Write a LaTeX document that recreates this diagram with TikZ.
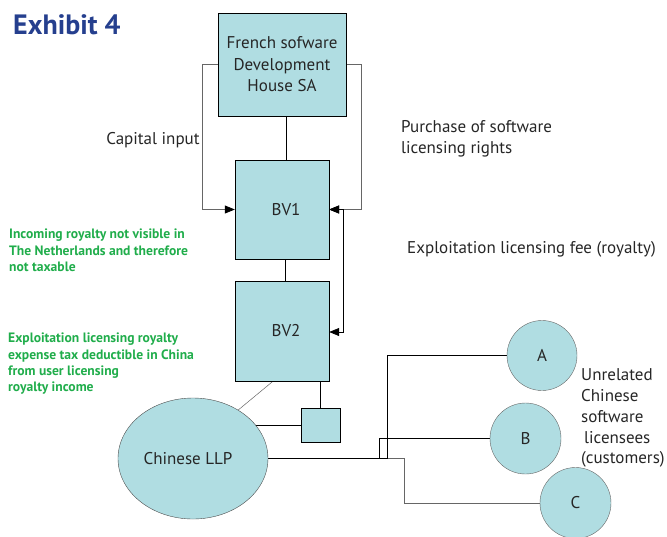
\documentclass[tikz,border=0pt]{standalone}
\usepackage{fontspec}
\setmainfont{PT Sans}
\usetikzlibrary{arrows.meta,shapes.geometric,backgrounds}
\definecolor{boxfill}{RGB}{176,221,226}
\definecolor{titleblue}{RGB}{37,63,142}
\definecolor{notegreen}{RGB}{32,173,75}
\begin{document}
\begin{tikzpicture}[x=1pt,y=-1pt,
  every node/.style={font=\fontsize{17}{21.5}\selectfont, text=black!85},
  boxnode/.style={draw=black, fill=boxfill, rectangle, inner sep=0pt, align=center},
  circnode/.style={draw=black!60, fill=boxfill, circle, inner sep=0pt},
  ellnode/.style={draw=black!70, fill=boxfill, ellipse, inner sep=0pt},
  conn/.style={draw=black, line width=0.7pt},
  grayconn/.style={draw=black!60, line width=0.8pt},
  thinconn/.style={draw=black!60, line width=0.5pt},
  arr/.style={-{Triangle[length=10pt,width=8pt,color=black]}},
  darr/.style={{Triangle[length=10pt,width=8pt]}-{Triangle[length=10pt,width=8pt]}},
  note/.style={font=\fontsize{13.6}{16.3}\selectfont\bfseries, text=notegreen, align=left, anchor=north west, inner sep=0pt},
  lbl/.style={align=left, inner sep=0pt}
]
\useasboundingbox (0,0) rectangle (667,536);

\node[font=\fontsize{28}{30}\selectfont\bfseries, text=titleblue, anchor=west, inner sep=0pt] (title) at (13,25) {Exhibit 4};

\node[boxnode, minimum width=128pt, minimum height=103pt] (french) at (282,64.5) {\raisebox{-2pt}{\parbox{120pt}{\centering French sofware\\Development\\House SA}}};
\node[boxnode, minimum width=94pt, minimum height=99pt] (bv1) at (282,209.5) {\hspace{8pt}BV1};
\node[boxnode, minimum width=94pt, minimum height=100pt] (bv2) at (282,331) {\hspace{8pt}BV2};
\node[boxnode, minimum width=39pt, minimum height=34pt] (small) at (320.5,425) {};
\node[ellnode, minimum width=150pt, minimum height=121pt] (llp) at (193,458.5) {\hspace{-10pt}Chinese LLP};
\node[circnode, minimum size=70pt] (A) at (542,355.5) {A};
\node[circnode, minimum size=71pt] (B) at (525.5,438.5) {B};
\node[circnode, minimum size=71pt] (C) at (575.5,503) {C};

\coordinate (j1) at (379,458.5);
\coordinate (j2) at (387,458.5);
\coordinate (j3) at (404,458.5);

\begin{scope}[on background layer]
  \draw[conn] ([xshift=4pt]french.south) -- ([xshift=4pt]bv1.north);
  \draw[conn] ([xshift=3pt]bv1.south) -- ([xshift=3pt]bv2.north);
  \draw[grayconn, arr] (french.west) -- ++(-15,0) |- (bv1.west);
  \draw[grayconn, arr] (french.east) -- ++(15,0) |- (bv1.east);
  \draw[conn, darr] (bv1.east) -- ++(14,0) |- ([yshift=-1pt]bv2.east);
  \draw[thinconn] ([xshift=-9pt]bv2.south) -- (llp.47);
  \draw[conn] (small.north |- bv2.south) -- (small.north);
  \draw[conn] (small.west) -- (small.west -| llp.center);
  \draw[draw=black, line width=1.2pt] (llp.center) -- (j2);
  \draw[grayconn] (j2) -- (j3) |- (C.west);
  \draw[conn] (j2) |- (A.west);
  \draw[conn] (j1) |- (B.west);
\end{scope}

\node[lbl] (cap) at (153,140.5) {Capital input};
\node[lbl, anchor=north west] (purch) at (401,120) {Purchase of software\\licensing rights};
\node[lbl, anchor=west] (expl) at (407,249) {Exploitation licensing fee (royalty)};
\node[lbl, anchor=north west, font=\fontsize{17}{20.8}\selectfont] (unrel) at (581,368.5) {Unrelated\\Chinese\\software\\\hspace{3pt}licensees\\(customers)};

\node[note] (note1) at (9,229) {Incoming royalty not visible in\\The Netherlands and therefore\\not taxable};
\node[note] (note2) at (8,333) {Exploitation licensing royalty\\expense tax deductible in China\\from user licensing\\royalty income};
\end{tikzpicture}
\end{document}
